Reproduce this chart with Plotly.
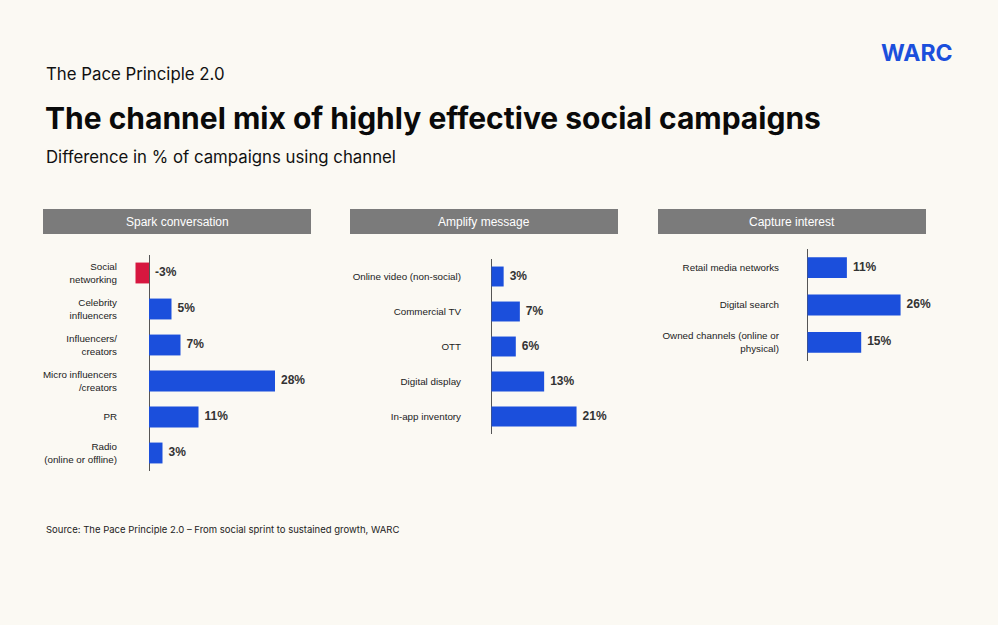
import plotly.graph_objects as go

W, H = 998, 625

# ---- data ----
p1_title = "Spark conversation"
p1_cats = ["Social<br>networking", "Celebrity<br>influencers", "Influencers/<br>creators",
           "Micro influencers<br>/creators", "PR", "Radio<br>(online or offline)"]
p1_vals = [-3, 5, 7, 28, 11, 3]

p2_title = "Amplify message"
p2_cats = ["Online video (non-social)", "Commercial TV", "OTT", "Digital display", "In-app inventory"]
p2_vals = [3, 7, 6, 13, 21]

p3_title = "Capture interest"
p3_cats = ["Retail media networks", "Digital search", "Owned channels (online or<br>physical)"]
p3_vals = [11, 26, 15]

BLUE = "#1b4fdc"
RED = "#d7173f"
BG = "#fbf9f3"
FONT = "Liberation Sans, Arial, sans-serif"
TFONT = "Inter, Roboto, sans-serif"

def px_x(p):
    return p / W

def px_y(p):
    return 1 - p / H

panels = [
    dict(cats=p1_cats, vals=p1_vals, title=p1_title, x0=149, scale=4.5, lab=120, top=255, bot=471,
         hdr=(43, 311), width=0.58),
    dict(cats=p2_cats, vals=p2_vals, title=p2_title, x0=491.5, scale=4.05, lab=464, top=259, bot=434,
         hdr=(350, 618), width=0.57),
    dict(cats=p3_cats, vals=p3_vals, title=p3_title, x0=807.5, scale=3.58, lab=782, top=249, bot=361,
         hdr=(658, 926), width=0.56),
]

fig = go.Figure()
layout = {}
shapes = []
annotations = []
XMAX = 32
GAP_PX = 6

for i, p in enumerate(panels, start=1):
    xa = "x" if i == 1 else f"x{i}"
    ya = "y" if i == 1 else f"y{i}"
    xmin = (p["lab"] - p["x0"]) / p["scale"]
    left = p["lab"]
    right = p["x0"] + XMAX * p["scale"]
    colors = [RED if v < 0 else BLUE for v in p["vals"]]
    fig.add_trace(go.Bar(
        x=p["vals"], y=p["cats"], orientation="h", marker=dict(color=colors, line=dict(width=0)),
        width=p["width"], xaxis=xa, yaxis=ya, hoverinfo="skip", showlegend=False,
    ))
    gap = GAP_PX / p["scale"]
    fig.add_trace(go.Scatter(
        x=[max(v, 0) + gap for v in p["vals"]], y=p["cats"], mode="text",
        text=[f"{v}%" for v in p["vals"]], textposition="middle right",
        textfont=dict(family=FONT, size=12, color="#333333", weight="bold"),
        xaxis=xa, yaxis=ya, hoverinfo="skip", showlegend=False, cliponaxis=False,
    ))
    layout[f"xaxis{i if i > 1 else ''}"] = dict(
        domain=[px_x(left), px_x(right)], range=[xmin, XMAX], anchor=ya,
        showgrid=False, showticklabels=False, zeroline=True, zerolinecolor="#555555",
        zerolinewidth=1, fixedrange=True,
    )
    layout[f"yaxis{i if i > 1 else ''}"] = dict(
        domain=[px_y(p["bot"]), px_y(p["top"])], anchor=xa, autorange="reversed",
        showgrid=False, zeroline=False, showline=False, ticks="",
        tickfont=dict(family=FONT, size=9.8, color="#222222"), ticklabelstandoff=2,
    )
    shapes.append(dict(type="rect", xref="paper", yref="paper",
                       x0=px_x(p["hdr"][0]), x1=px_x(p["hdr"][1]),
                       y0=px_y(234), y1=px_y(209), fillcolor="#7b7b7b", line=dict(width=0), layer="below"))
    annotations.append(dict(xref="paper", yref="paper", x=px_x((p["hdr"][0] + p["hdr"][1]) / 2),
                            y=px_y(221.5), text=p["title"], showarrow=False, xanchor="center", yanchor="middle",
                            font=dict(family=FONT, size=12, color="#ffffff")))

annotations += [
    dict(xref="paper", yref="paper", x=px_x(44), y=px_y(74), text="The Pace Principle 2.0",
         showarrow=False, xanchor="left", yanchor="middle", font=dict(family=TFONT, size=16.8, color="#111111")),
    dict(xref="paper", yref="paper", x=px_x(43), y=px_y(118),
         text="<b>The channel mix of highly effective social campaigns</b>",
         showarrow=False, xanchor="left", yanchor="middle", font=dict(family=TFONT, size=30, color="#0a0a0a")),
    dict(xref="paper", yref="paper", x=px_x(44), y=px_y(157), text="Difference in % of campaigns using channel",
         showarrow=False, xanchor="left", yanchor="middle", font=dict(family=TFONT, size=16.8, color="#111111")),
    dict(xref="paper", yref="paper", x=px_x(955), y=px_y(53), text="<b>WARC</b>",
         showarrow=False, xanchor="right", yanchor="middle", font=dict(family=TFONT, size=23, color=BLUE)),
    dict(xref="paper", yref="paper", x=px_x(44), y=px_y(529),
         text="Source: The Pace Principle 2.0 – From social sprint to sustained growth, WARC",
         showarrow=False, xanchor="left", yanchor="middle", font=dict(family=TFONT, size=9.5, color="#222222")),
]

fig.update_layout(
    width=W, height=H, margin=dict(l=0, r=0, t=0, b=0),
    paper_bgcolor=BG, plot_bgcolor=BG, bargap=0.4,
    shapes=shapes, annotations=annotations, **layout,
)

fig.write_html("out.html", config={"displayModeBar": False},
               post_script="document.body.style.margin='0';document.body.style.overflow='hidden';document.body.style.background='" + BG + "';")
